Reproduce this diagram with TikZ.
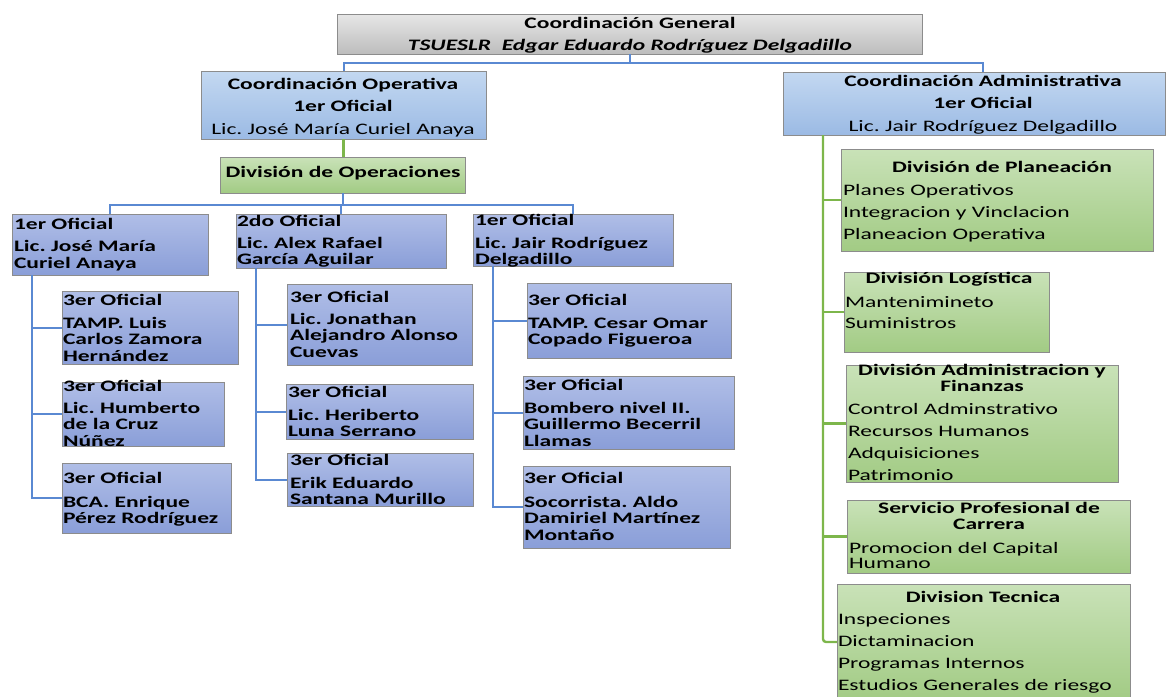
\documentclass[tikz,border=0pt]{standalone}
\usepackage{fontspec}
\setmainfont{Carlito}[FakeStretch=1.47]
\frenchspacing
\usetikzlibrary{calc,shadings}
\definecolor{grayT}{HTML}{E6E6E6}
\definecolor{grayB}{HTML}{BDBDBD}
\definecolor{cbT}{HTML}{C3D8F1}
\definecolor{cbB}{HTML}{9BBAE4}
\definecolor{bT}{HTML}{B0BEE7}
\definecolor{bB}{HTML}{8A9ED8}
\definecolor{gT}{HTML}{C9E2B8}
\definecolor{gB}{HTML}{A2CB84}
\definecolor{bord}{HTML}{8C8C8C}
\definecolor{bl}{HTML}{5A89D2}
\definecolor{gl}{HTML}{7DB64B}
\tikzset{
  boxbase/.style={draw=bord, line width=0.9pt, inner sep=0pt, outer sep=0pt, anchor=north west},
  graybox/.style={boxbase, top color=grayT, bottom color=grayB},
  coordbox/.style={boxbase, top color=cbT, bottom color=cbB},
  bluebox/.style={boxbase, top color=bT, bottom color=bB},
  greenbox/.style={boxbase, top color=gT, bottom color=gB},
  bline/.style={draw=bl, line width=2pt},
  gline/.style={draw=gl, line width=2.4pt},
  ltxt/.style={inner sep=0pt, outer sep=0pt, text width=320pt, align=left, anchor=base west,
     font=\fontsize{16}{16.5}\selectfont\bfseries},
  ctxt/.style={inner sep=0pt, outer sep=0pt, text width=700pt, align=center, anchor=base,
     font=\fontsize{16}{22.5}\selectfont},
  gitem/.style={inner sep=0pt, outer sep=0pt, text width=320pt, align=left, anchor=base west,
     font=\fontsize{16}{22}\selectfont},
}
\begin{document}
\begin{tikzpicture}[x=1pt,y=-1pt]
\useasboundingbox (0,0) rectangle (1167,696);
% ---------- boxes ----------
\node[graybox, minimum width=585, minimum height=40] (top) at (337,14) {};
\node[coordbox, minimum width=285, minimum height=68] (cop) at (201,71) {};
\node[coordbox, minimum width=382, minimum height=63] (cad) at (783,72) {};
\node[greenbox, minimum width=245, minimum height=36] (divop) at (220,157) {};
\node[bluebox, minimum width=196, minimum height=61] (l1) at (12,214) {};
\node[bluebox, minimum width=210, minimum height=54] (l2) at (236,214) {};
\node[bluebox, minimum width=200, minimum height=52] (l3) at (473,214) {};
\node[bluebox, minimum width=176, minimum height=73] (c11) at (62,291) {};
\node[bluebox, minimum width=162, minimum height=64] (c12) at (62,382) {};
\node[bluebox, minimum width=169, minimum height=70] (c13) at (62,463) {};
\node[bluebox, minimum width=185, minimum height=81] (c21) at (287,284) {};
\node[bluebox, minimum width=187, minimum height=55] (c22) at (286,384) {};
\node[bluebox, minimum width=186, minimum height=53] (c23) at (287,453) {};
\node[bluebox, minimum width=204, minimum height=75] (c31) at (527,283) {};
\node[bluebox, minimum width=211, minimum height=73] (c32) at (523,376) {};
\node[bluebox, minimum width=207, minimum height=82] (c33) at (523,466) {};
\node[greenbox, minimum width=312, minimum height=102] (g1) at (841,149) {};
\node[greenbox, minimum width=205, minimum height=80] (g2) at (844,272) {};
\node[greenbox, minimum width=272, minimum height=117] (g3) at (846,365) {};
\node[greenbox, minimum width=283, minimum height=73] (g4) at (847,500) {};
\node[greenbox, minimum width=293, minimum height=116] (g5) at (837,584) {};
% ---------- texts ----------
\node[ctxt, font=\fontsize{16}{22}\selectfont\bfseries] (topt) at (630,28)
  {Coordinación General\\ {\itshape TSUESLR\ \ Edgar Eduardo Rodríguez Delgadillo}};
\node[ctxt] (copt) at (343,89)
  {{\bfseries Coordinación Operativa}\\ {\bfseries 1er Oficial}\\ Lic. José María Curiel Anaya};
\node[ctxt] (cadt) at (983,86)
  {{\bfseries Coordinación Administrativa}\\ {\bfseries 1er Oficial}\\ Lic. Jair Rodríguez Delgadillo};
\node[ctxt, font=\fontsize{16}{20}\selectfont\bfseries] (divopt) at (343,177) {División de Operaciones};
\node[ltxt] (l1t) at (14,229) {1er Oficial\\[6pt] Lic. José María\\ Curiel Anaya};
\node[ltxt] (l2t) at (237,226) {2do Oficial\\[5.5pt] Lic. Alex Rafael\\ García Aguilar};
\node[ltxt] (l3t) at (475,225) {1er Oficial\\[6.5pt] Lic. Jair Rodríguez\\ Delgadillo};
\node[ltxt] (c11t) at (63,305) {3er Oficial\\[6.5pt] TAMP. Luis\\ Carlos Zamora\\ Hernández};
\node[ltxt] (c12t) at (63,391) {3er Oficial\\[5.5pt] Lic. Humberto\\ de la Cruz\\ Núñez};
\node[ltxt] (c13t) at (63,483) {3er Oficial\\[7.5pt] BCA. Enrique\\ Pérez Rodríguez};
\node[ltxt] (c21t) at (290,302) {3er Oficial\\[5.5pt] Lic. Jonathan\\ Alejandro Alonso\\ Cuevas};
\node[ltxt] (c22t) at (288,397) {3er Oficial\\[6.5pt] Lic. Heriberto\\ Luna Serrano};
\node[ltxt] (c23t) at (290,465) {3er Oficial\\[6.5pt] Erik Eduardo\\ Santana Murillo};
\node[ltxt] (c31t) at (528,305) {3er Oficial\\[6.5pt] TAMP. Cesar Omar\\ Copado Figueroa};
\node[ltxt] (c32t) at (524,390) {3er Oficial\\[6.5pt] Bombero nivel II.\\ Guillermo Becerril\\ Llamas};
\node[ltxt] (c33t) at (524,483) {3er Oficial\\[7.5pt] Socorrista. Aldo\\ Damiriel Martínez\\ Montaño};
\node[ctxt, font=\fontsize{16}{16}\selectfont\bfseries] (g1h) at (1002,172) {División de Planeación};
\node[gitem] (g1t) at (843,195) {Planes Operativos\\ Integracion y Vinclacion\\ Planeacion Operativa};
\node[ctxt, font=\fontsize{16}{16}\selectfont\bfseries] (g2h) at (949,283) {División Logística};
\node[gitem, font=\fontsize{16}{21.5}\selectfont] (g2t) at (845,307) {Mantenimineto\\ Suministros};
\node[ctxt, font=\fontsize{16}{16}\selectfont\bfseries] (g3h) at (982,375) {División Administracion y\\ Finanzas};
\node[gitem] (g3t) at (848,414) {Control Adminstrativo\\ Recursos Humanos\\ Adquisiciones\\ Patrimonio};
\node[ctxt, font=\fontsize{16}{16}\selectfont\bfseries] (g4h) at (989,513) {Servicio Profesional de\\ Carrera};
\node[gitem, font=\fontsize{16}{15.5}\selectfont] (g4t) at (849,553) {Promocion del Capital\\ Humano};
\node[ctxt, font=\fontsize{16}{16}\selectfont\bfseries] (g5h) at (983,602) {Division Tecnica};
\node[gitem, font=\fontsize{16}{22.3}\selectfont] (g5t) at (838,624) {Inspeciones\\ Dictaminacion\\ Programas Internos\\ Estudios Generales de riesgo};
% ---------- connectors ----------
\coordinate (h0) at ($(top.south)+(0,9)$);
\coordinate (admtop) at ($(cad.north west)+(200,0)$);
\draw[bline] (top.south) -- (h0);
\draw[bline] (cop.north) |- (h0) -| (admtop);
\draw[gline] (cop.south) -- (cop.south |- divop.north);
\coordinate (h1) at ($(divop.south)+(0,12)$);
\draw[bline] (divop.south) -- (h1);
\draw[bline] (l1.north) |- (h1) -| (l3.north);
\draw[bline] (h1 -| l2.north) -- (l2.north);
% level 3 branches
\coordinate (v1) at ($(l1.south west)+(20,0)$);
\draw[bline] (v1) |- (c13.west);
\draw[bline] (v1 |- c11.west) -- (c11.west);
\draw[bline] (v1 |- c12.west) -- (c12.west);
\coordinate (v2) at ($(l2.south west)+(20,0)$);
\draw[bline] (v2) |- (c23.west);
\draw[bline] (v2 |- c21.west) -- (c21.west);
\draw[bline] (v2 |- c22.west) -- (c22.west);
\coordinate (v3) at ($(l3.south west)+(20,0)$);
\draw[bline] (v3) |- (c33.west);
\draw[bline] (v3 |- c31.west) -- (c31.west);
\draw[bline] (v3 |- c32.west) -- (c32.west);
% admin branches
\coordinate (va) at ($(cad.south west)+(40,0)$);
\draw[gline, rounded corners=3pt] (va) |- (g5.west);
\draw[gline] (va |- g1.west) -- (g1.west);
\draw[gline] (va |- g2.west) -- (g2.west);
\draw[gline] (va |- g3.west) -- (g3.west);
\draw[gline] (va |- g4.west) -- (g4.west);
\end{tikzpicture}
\end{document}
